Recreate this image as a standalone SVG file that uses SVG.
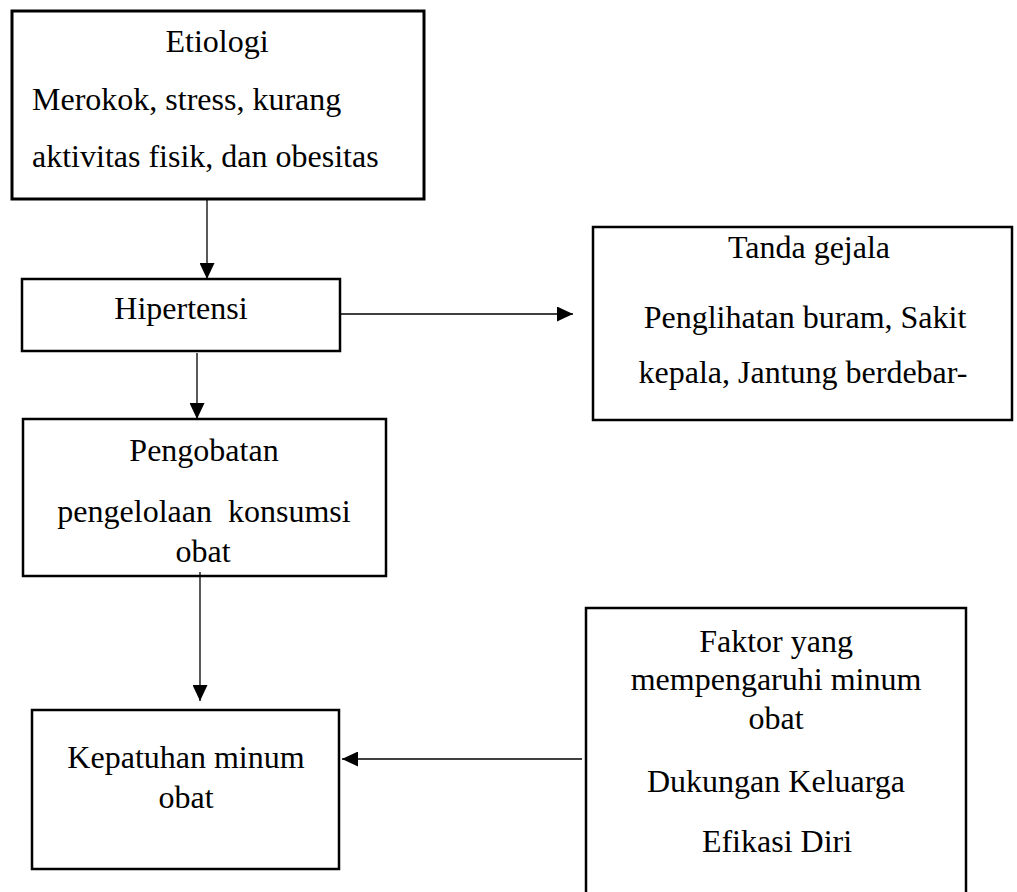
<svg xmlns="http://www.w3.org/2000/svg" width="1017" height="892" viewBox="0 0 1017 892">
<style>
.box{fill:#fff;stroke:#000;stroke-width:2.5}
.t{font-family:"Liberation Serif","Times New Roman",serif;font-size:32px;fill:#000;white-space:pre}
.c{text-anchor:middle}
.conn{stroke:#000;stroke-width:1.3;fill:none;marker-end:url(#ah)}
</style>
<defs>
<marker id="ah" markerUnits="userSpaceOnUse" markerWidth="16" markerHeight="15" refX="16" refY="7.5" orient="auto">
<path d="M0,0 L16,7.5 L0,15 z" fill="#000"/>
</marker>
</defs>
<rect width="1017" height="892" fill="#fff"/>
<g id="etiologi">
<rect class="box" x="12" y="11" width="412" height="188" style="stroke-width:3"/>
<text class="t c" x="217" y="52">Etiologi</text>
<text class="t" x="32" y="110">Merokok, stress, kurang</text>
<text class="t" x="32" y="167">aktivitas fisik, dan obesitas</text>
</g>
<g id="hipertensi">
<rect class="box" x="22" y="279" width="318" height="72"/>
<text class="t c" x="181" y="319">Hipertensi</text>
</g>
<g id="tanda-gejala">
<rect class="box" x="593" y="227" width="419" height="193"/>
<text class="t c" x="809" y="258">Tanda gejala</text>
<text class="t c" x="805" y="328">Penglihatan buram, Sakit</text>
<text class="t c" x="803" y="383">kepala, Jantung berdebar-</text>
</g>
<g id="pengobatan">
<rect class="box" x="23" y="419" width="363" height="157"/>
<text class="t c" x="204" y="461">Pengobatan</text>
<text class="t c" x="204" y="522">pengelolaan  konsumsi</text>
<text class="t c" x="203" y="562">obat</text>
</g>
<g id="kepatuhan">
<rect class="box" x="32" y="710" width="307" height="159"/>
<text class="t c" x="186" y="768">Kepatuhan minum</text>
<text class="t c" x="186" y="808">obat</text>
</g>
<g id="faktor">
<rect class="box" x="586" y="608" width="380" height="300"/>
<text class="t c" x="776" y="652">Faktor yang</text>
<text class="t c" x="776" y="690">mempengaruhi minum</text>
<text class="t c" x="776" y="729">obat</text>
<text class="t c" x="776" y="792">Dukungan Keluarga</text>
<text class="t c" x="777" y="852">Efikasi Diri</text>
</g>
<g id="connectors">
<line class="conn" x1="207" y1="200" x2="207" y2="279"/>
<line class="conn" x1="341" y1="314" x2="573" y2="314"/>
<line class="conn" x1="197" y1="353" x2="197" y2="419"/>
<line class="conn" x1="200" y1="572" x2="200" y2="701"/>
<line class="conn" x1="582" y1="759" x2="342" y2="759"/>
</g>
</svg>
